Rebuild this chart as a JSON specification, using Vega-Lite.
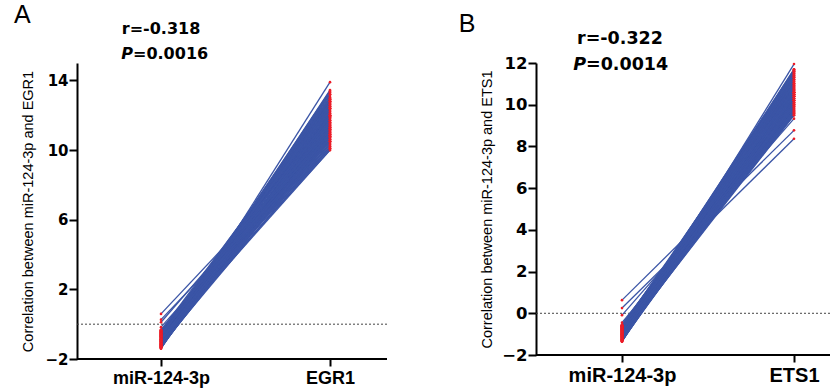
{
  "$schema": "https://vega.github.io/schema/vega-lite/v6.json",
  "autosize": {"type": "none"},
  "padding": {"left": 77, "top": 63, "right": 753, "bottom": 328},
  "background": "#ffffff",
  "config": {
    "view": {"stroke": null},
    "font": "Liberation Sans",
    "axisY": {"domain": true, "domainColor": "#000000", "domainWidth": 2, "tickColor": "#000000", "tickWidth": 2, "tickSize": 8, "labelFont": "DejaVu Sans", "labelFontWeight": "bold", "labelColor": "#000000", "labelPadding": 1, "labelOverlap": false, "titleFont": "Liberation Sans", "titleFontSize": 14.5, "titleFontWeight": "normal", "titleColor": "#000000", "grid": false},
    "axisX": {"domain": false, "tickColor": "#000000", "tickWidth": 2, "tickSize": 7, "labelFont": "Liberation Sans", "labelFontWeight": "bold", "labelColor": "#000000", "labelPadding": 3, "labelAngle": 0, "title": null, "grid": false}
  },
  "datasets": {
    "A": [
      {"id":1,"miR-124-3p":-1.41,"EGR1":13.9},{"id":2,"miR-124-3p":-1.39,"EGR1":12.8},{"id":3,"miR-124-3p":-1.37,"EGR1":13.4},{"id":4,"miR-124-3p":-1.36,"EGR1":11.9},{"id":5,"miR-124-3p":-1.34,"EGR1":12.6},{"id":6,"miR-124-3p":-1.33,"EGR1":13.2},{"id":7,"miR-124-3p":-1.31,"EGR1":11.4},{"id":8,"miR-124-3p":-1.30,"EGR1":12.9},{"id":9,"miR-124-3p":-1.28,"EGR1":12.2},{"id":10,"miR-124-3p":-1.27,"EGR1":13.45},
      {"id":11,"miR-124-3p":-1.26,"EGR1":10.8},{"id":12,"miR-124-3p":-1.24,"EGR1":12.5},{"id":13,"miR-124-3p":-1.23,"EGR1":11.7},{"id":14,"miR-124-3p":-1.22,"EGR1":13.0},{"id":15,"miR-124-3p":-1.20,"EGR1":12.1},{"id":16,"miR-124-3p":-1.19,"EGR1":10.4},{"id":17,"miR-124-3p":-1.18,"EGR1":11.5},{"id":18,"miR-124-3p":-1.16,"EGR1":12.8},{"id":19,"miR-124-3p":-1.15,"EGR1":13.3},{"id":20,"miR-124-3p":-1.14,"EGR1":11.1},
      {"id":21,"miR-124-3p":-1.12,"EGR1":12.4},{"id":22,"miR-124-3p":-1.11,"EGR1":11.8},{"id":23,"miR-124-3p":-1.10,"EGR1":10.6},{"id":24,"miR-124-3p":-1.08,"EGR1":12.7},{"id":25,"miR-124-3p":-1.07,"EGR1":13.1},{"id":26,"miR-124-3p":-1.06,"EGR1":11.3},{"id":27,"miR-124-3p":-1.04,"EGR1":12.0},{"id":28,"miR-124-3p":-1.03,"EGR1":10.9},{"id":29,"miR-124-3p":-1.02,"EGR1":12.6},{"id":30,"miR-124-3p":-1.00,"EGR1":11.6},
      {"id":31,"miR-124-3p":-0.99,"EGR1":13.35},{"id":32,"miR-124-3p":-0.98,"EGR1":10.2},{"id":33,"miR-124-3p":-0.96,"EGR1":12.3},{"id":34,"miR-124-3p":-0.95,"EGR1":11.0},{"id":35,"miR-124-3p":-0.94,"EGR1":11.9},{"id":36,"miR-124-3p":-0.92,"EGR1":12.9},{"id":37,"miR-124-3p":-0.91,"EGR1":10.7},{"id":38,"miR-124-3p":-0.90,"EGR1":11.4},{"id":39,"miR-124-3p":-0.88,"EGR1":12.5},{"id":40,"miR-124-3p":-0.87,"EGR1":13.2},
      {"id":41,"miR-124-3p":-0.86,"EGR1":10.5},{"id":42,"miR-124-3p":-0.84,"EGR1":11.7},{"id":43,"miR-124-3p":-0.83,"EGR1":12.2},{"id":44,"miR-124-3p":-0.82,"EGR1":10.1},{"id":45,"miR-124-3p":-0.80,"EGR1":11.2},{"id":46,"miR-124-3p":-0.79,"EGR1":12.8},{"id":47,"miR-124-3p":-0.78,"EGR1":10.8},{"id":48,"miR-124-3p":-0.76,"EGR1":11.5},{"id":49,"miR-124-3p":-0.75,"EGR1":12.4},{"id":50,"miR-124-3p":-0.74,"EGR1":10.3},
      {"id":51,"miR-124-3p":-0.72,"EGR1":11.9},{"id":52,"miR-124-3p":-0.71,"EGR1":13.0},{"id":53,"miR-124-3p":-0.70,"EGR1":11.1},{"id":54,"miR-124-3p":-0.68,"EGR1":10.6},{"id":55,"miR-124-3p":-0.67,"EGR1":12.1},{"id":56,"miR-124-3p":-0.66,"EGR1":11.3},{"id":57,"miR-124-3p":-0.64,"EGR1":10.0},{"id":58,"miR-124-3p":-0.63,"EGR1":12.6},{"id":59,"miR-124-3p":-0.62,"EGR1":11.8},{"id":60,"miR-124-3p":-0.60,"EGR1":10.9},
      {"id":61,"miR-124-3p":-0.59,"EGR1":11.6},{"id":62,"miR-124-3p":-0.58,"EGR1":12.3},{"id":63,"miR-124-3p":-0.56,"EGR1":10.4},{"id":64,"miR-124-3p":-0.55,"EGR1":11.0},{"id":65,"miR-124-3p":-0.54,"EGR1":12.9},{"id":66,"miR-124-3p":-0.52,"EGR1":10.7},{"id":67,"miR-124-3p":-0.51,"EGR1":11.4},{"id":68,"miR-124-3p":-0.50,"EGR1":12.0},{"id":69,"miR-124-3p":-0.48,"EGR1":10.2},{"id":70,"miR-124-3p":-0.47,"EGR1":11.7},
      {"id":71,"miR-124-3p":-0.46,"EGR1":10.8},{"id":72,"miR-124-3p":-0.44,"EGR1":12.4},{"id":73,"miR-124-3p":-0.43,"EGR1":11.2},{"id":74,"miR-124-3p":-0.42,"EGR1":10.5},{"id":75,"miR-124-3p":-0.40,"EGR1":11.9},{"id":76,"miR-124-3p":-0.39,"EGR1":10.9},{"id":77,"miR-124-3p":-0.38,"EGR1":12.7},{"id":78,"miR-124-3p":-0.36,"EGR1":10.3},{"id":79,"miR-124-3p":-0.35,"EGR1":11.5},{"id":80,"miR-124-3p":-0.34,"EGR1":10.6},
      {"id":81,"miR-124-3p":-0.33,"EGR1":11.1},{"id":82,"miR-124-3p":-0.32,"EGR1":10.1},{"id":83,"miR-124-3p":-1.35,"EGR1":12.0},{"id":84,"miR-124-3p":-1.21,"EGR1":12.95},{"id":85,"miR-124-3p":-1.13,"EGR1":11.95},{"id":86,"miR-124-3p":-0.97,"EGR1":12.7},{"id":87,"miR-124-3p":-0.85,"EGR1":11.3},{"id":88,"miR-124-3p":-0.69,"EGR1":12.5},{"id":89,"miR-124-3p":-0.57,"EGR1":11.2},{"id":90,"miR-124-3p":-0.17,"EGR1":10.7},
      {"id":91,"miR-124-3p":0.11,"EGR1":11.3},{"id":92,"miR-124-3p":0.26,"EGR1":10.5},{"id":93,"miR-124-3p":0.59,"EGR1":10.9},{"id":94,"miR-124-3p":-0.89,"EGR1":10.0},{"id":95,"miR-124-3p":-1.29,"EGR1":11.0}
    ],
    "B": [
      {"id":1,"miR-124-3p":-1.36,"ETS1":11.95},{"id":2,"miR-124-3p":-1.35,"ETS1":11.2},{"id":3,"miR-124-3p":-1.33,"ETS1":10.6},{"id":4,"miR-124-3p":-1.32,"ETS1":11.5},{"id":5,"miR-124-3p":-1.30,"ETS1":10.1},{"id":6,"miR-124-3p":-1.29,"ETS1":11.0},{"id":7,"miR-124-3p":-1.27,"ETS1":11.7},{"id":8,"miR-124-3p":-1.26,"ETS1":10.4},{"id":9,"miR-124-3p":-1.25,"ETS1":10.9},{"id":10,"miR-124-3p":-1.23,"ETS1":11.3},
      {"id":11,"miR-124-3p":-1.22,"ETS1":9.8},{"id":12,"miR-124-3p":-1.21,"ETS1":10.7},{"id":13,"miR-124-3p":-1.19,"ETS1":11.6},{"id":14,"miR-124-3p":-1.18,"ETS1":10.2},{"id":15,"miR-124-3p":-1.17,"ETS1":11.1},{"id":16,"miR-124-3p":-1.15,"ETS1":10.5},{"id":17,"miR-124-3p":-1.14,"ETS1":9.6},{"id":18,"miR-124-3p":-1.13,"ETS1":11.4},{"id":19,"miR-124-3p":-1.11,"ETS1":10.8},{"id":20,"miR-124-3p":-1.10,"ETS1":10.0},
      {"id":21,"miR-124-3p":-1.09,"ETS1":11.2},{"id":22,"miR-124-3p":-1.07,"ETS1":10.3},{"id":23,"miR-124-3p":-1.06,"ETS1":11.65},{"id":24,"miR-124-3p":-1.05,"ETS1":9.9},{"id":25,"miR-124-3p":-1.03,"ETS1":10.6},{"id":26,"miR-124-3p":-1.02,"ETS1":11.0},{"id":27,"miR-124-3p":-1.01,"ETS1":9.7},{"id":28,"miR-124-3p":-0.99,"ETS1":10.9},{"id":29,"miR-124-3p":-0.98,"ETS1":11.5},{"id":30,"miR-124-3p":-0.97,"ETS1":10.2},
      {"id":31,"miR-124-3p":-0.95,"ETS1":10.7},{"id":32,"miR-124-3p":-0.94,"ETS1":9.5},{"id":33,"miR-124-3p":-0.93,"ETS1":11.3},{"id":34,"miR-124-3p":-0.91,"ETS1":10.4},{"id":35,"miR-124-3p":-0.90,"ETS1":10.0},{"id":36,"miR-124-3p":-0.89,"ETS1":11.1},{"id":37,"miR-124-3p":-0.87,"ETS1":10.6},{"id":38,"miR-124-3p":-0.86,"ETS1":9.8},{"id":39,"miR-124-3p":-0.85,"ETS1":11.6},{"id":40,"miR-124-3p":-0.83,"ETS1":10.3},
      {"id":41,"miR-124-3p":-0.82,"ETS1":10.8},{"id":42,"miR-124-3p":-0.81,"ETS1":9.6},{"id":43,"miR-124-3p":-0.79,"ETS1":11.0},{"id":44,"miR-124-3p":-0.78,"ETS1":10.1},{"id":45,"miR-124-3p":-0.77,"ETS1":10.5},{"id":46,"miR-124-3p":-0.75,"ETS1":11.4},{"id":47,"miR-124-3p":-0.74,"ETS1":9.9},{"id":48,"miR-124-3p":-0.73,"ETS1":10.7},{"id":49,"miR-124-3p":-0.71,"ETS1":10.2},{"id":50,"miR-124-3p":-0.70,"ETS1":11.2},
      {"id":51,"miR-124-3p":-0.69,"ETS1":9.7},{"id":52,"miR-124-3p":-0.67,"ETS1":10.4},{"id":53,"miR-124-3p":-0.66,"ETS1":10.9},{"id":54,"miR-124-3p":-0.65,"ETS1":9.55},{"id":55,"miR-124-3p":-0.63,"ETS1":10.6},{"id":56,"miR-124-3p":-0.62,"ETS1":11.1},{"id":57,"miR-124-3p":-0.61,"ETS1":10.0},{"id":58,"miR-124-3p":-0.60,"ETS1":10.3},{"id":59,"miR-124-3p":-0.58,"ETS1":9.8},{"id":60,"miR-124-3p":-0.57,"ETS1":10.8},
      {"id":61,"miR-124-3p":-0.56,"ETS1":10.1},{"id":62,"miR-124-3p":-0.45,"ETS1":9.6},{"id":63,"miR-124-3p":-0.09,"ETS1":9.33},{"id":64,"miR-124-3p":0.25,"ETS1":8.37},{"id":65,"miR-124-3p":0.63,"ETS1":8.77},{"id":66,"miR-124-3p":-1.34,"ETS1":11.0},{"id":67,"miR-124-3p":-1.28,"ETS1":10.3},{"id":68,"miR-124-3p":-1.20,"ETS1":11.55},{"id":69,"miR-124-3p":-1.16,"ETS1":9.9},{"id":70,"miR-124-3p":-1.12,"ETS1":10.7},
      {"id":71,"miR-124-3p":-1.08,"ETS1":11.35},{"id":72,"miR-124-3p":-1.04,"ETS1":10.0},{"id":73,"miR-124-3p":-1.00,"ETS1":10.5},{"id":74,"miR-124-3p":-0.96,"ETS1":11.7},{"id":75,"miR-124-3p":-0.92,"ETS1":10.2},{"id":76,"miR-124-3p":-0.88,"ETS1":10.9},{"id":77,"miR-124-3p":-0.84,"ETS1":9.7},{"id":78,"miR-124-3p":-0.80,"ETS1":10.4},{"id":79,"miR-124-3p":-0.76,"ETS1":11.0},{"id":80,"miR-124-3p":-0.72,"ETS1":9.9},
      {"id":81,"miR-124-3p":-0.68,"ETS1":10.6},{"id":82,"miR-124-3p":-0.64,"ETS1":11.3},{"id":83,"miR-124-3p":-0.59,"ETS1":10.2},{"id":84,"miR-124-3p":-1.24,"ETS1":10.8},{"id":85,"miR-124-3p":-1.12,"ETS1":9.5},{"id":86,"miR-124-3p":-0.97,"ETS1":11.2},{"id":87,"miR-124-3p":-0.85,"ETS1":10.1},{"id":88,"miR-124-3p":-0.73,"ETS1":10.6},{"id":89,"miR-124-3p":-0.62,"ETS1":9.7},{"id":90,"miR-124-3p":-1.31,"ETS1":10.4},
      {"id":91,"miR-124-3p":-1.02,"ETS1":10.5},{"id":92,"miR-124-3p":-0.90,"ETS1":11.45},{"id":93,"miR-124-3p":-0.78,"ETS1":9.6},{"id":94,"miR-124-3p":-0.66,"ETS1":10.0},{"id":95,"miR-124-3p":-0.55,"ETS1":10.7}
    ]
  },
  "bounds": "flush",
  "spacing": 149,
  "hconcat": [
    {
      "width": 310,
      "height": 296,
      "title": {"text": "A", "anchor": "start", "frame": "bounds", "font": "Liberation Sans", "fontSize": 25, "fontWeight": "normal", "color": "#000000", "offset": -7, "dx": -7},
      "layer": [
        {"data": {"values": [{"value": -2}]}, "mark": {"type": "rule", "color": "#000000", "strokeWidth": 2}, "encoding": {"y": {"field": "value", "type": "quantitative", "scale": {"domain": [-2, 15], "nice": false, "zero": false}, "axis": {"title": "Correlation between miR-124-3p and EGR1", "values": [-2, 0, 2, 4, 6, 8, 10, 12, 14], "labelOverlap": false, "labelFontSize": 15, "titlePadding": 9}}}},
        {"data": {"values": [{"value": 0}]}, "mark": {"type": "rule", "color": "#444444", "strokeWidth": 1, "strokeDash": [2, 2]}, "encoding": {"y": {"field": "value", "type": "quantitative"}}},
        {
          "data": {"name": "A"},
          "transform": [{"fold": ["miR-124-3p", "EGR1"], "as": ["group", "value"]}],
          "mark": {"type": "line", "color": "#3b55a6", "strokeWidth": 1.3},
          "encoding": {
            "x": {"field": "group", "type": "nominal", "scale": {"type": "point", "domain": ["miR-124-3p", "EGR1"], "range": [84, 253], "padding": 0}, "axis": {"labelFontSize": 18}},
            "y": {"field": "value", "type": "quantitative"},
            "detail": {"field": "id", "type": "nominal"}
          }
        },
        {
          "data": {"name": "A"},
          "transform": [{"fold": ["miR-124-3p", "EGR1"], "as": ["group", "value"]}],
          "mark": {"type": "point", "filled": true, "color": "#ec1c27", "size": 7, "opacity": 1},
          "encoding": {
            "x": {"field": "group", "type": "nominal"},
            "y": {"field": "value", "type": "quantitative"}
          }
        },
        {"data": {"values": [{"group": "miR-124-3p", "value": 16.65, "t": "r=-0.318"}]}, "mark": {"type": "text", "font": "DejaVu Sans", "fontWeight": "bold", "fontSize": 16, "color": "#000000", "align": "center", "baseline": "alphabetic"}, "encoding": {"x": {"field": "group", "type": "nominal"}, "y": {"field": "value", "type": "quantitative"}, "text": {"field": "t", "type": "nominal"}}},
        {"data": {"values": [{"group": "miR-124-3p", "value": 15.23, "t": "P"}]}, "mark": {"type": "text", "font": "DejaVu Sans", "fontWeight": "bold", "fontStyle": "italic", "fontSize": 16, "color": "#000000", "align": "right", "baseline": "alphabetic", "dx": -28}, "encoding": {"x": {"field": "group", "type": "nominal"}, "y": {"field": "value", "type": "quantitative"}, "text": {"field": "t", "type": "nominal"}}},
        {"data": {"values": [{"group": "miR-124-3p", "value": 15.23, "t": "=0.0016"}]}, "mark": {"type": "text", "font": "DejaVu Sans", "fontWeight": "bold", "fontSize": 16, "color": "#000000", "align": "left", "baseline": "alphabetic", "dx": -28}, "encoding": {"x": {"field": "group", "type": "nominal"}, "y": {"field": "value", "type": "quantitative"}, "text": {"field": "t", "type": "nominal"}}}
      ]
    },
    {
      "width": 294,
      "height": 292,
      "title": {"text": "B", "anchor": "start", "frame": "bounds", "font": "Liberation Sans", "fontSize": 25, "fontWeight": "normal", "color": "#000000", "offset": -7, "dx": -21},
      "layer": [
        {"data": {"values": [{"value": -2}]}, "mark": {"type": "rule", "color": "#000000", "strokeWidth": 2}, "encoding": {"y": {"field": "value", "type": "quantitative", "scale": {"domain": [-2, 12], "nice": false, "zero": false}, "axis": {"title": "Correlation between miR-124-3p and ETS1", "values": [-2, 0, 2, 4, 6, 8, 10, 12], "labelOverlap": false, "labelFontSize": 16.5, "titlePadding": 7}}}},
        {"data": {"values": [{"value": 0}]}, "mark": {"type": "rule", "color": "#444444", "strokeWidth": 1, "strokeDash": [2, 2]}, "encoding": {"y": {"field": "value", "type": "quantitative"}}},
        {
          "data": {"name": "B"},
          "transform": [{"fold": ["miR-124-3p", "ETS1"], "as": ["group", "value"]}],
          "mark": {"type": "line", "color": "#3b55a6", "strokeWidth": 1.3},
          "encoding": {
            "x": {"field": "group", "type": "nominal", "scale": {"type": "point", "domain": ["miR-124-3p", "ETS1"], "range": [86, 258], "padding": 0}, "axis": {"labelFontSize": 20}},
            "y": {"field": "value", "type": "quantitative"},
            "detail": {"field": "id", "type": "nominal"}
          }
        },
        {
          "data": {"name": "B"},
          "transform": [{"fold": ["miR-124-3p", "ETS1"], "as": ["group", "value"]}],
          "mark": {"type": "point", "filled": true, "color": "#ec1c27", "size": 7, "opacity": 1},
          "encoding": {
            "x": {"field": "group", "type": "nominal"},
            "y": {"field": "value", "type": "quantitative"}
          }
        },
        {"data": {"values": [{"group": "miR-124-3p", "value": 12.9, "t": "r=-0.322"}]}, "mark": {"type": "text", "font": "DejaVu Sans", "fontWeight": "bold", "fontSize": 17.5, "color": "#000000", "align": "center", "baseline": "alphabetic", "dx": -2}, "encoding": {"x": {"field": "group", "type": "nominal"}, "y": {"field": "value", "type": "quantitative"}, "text": {"field": "t", "type": "nominal"}}},
        {"data": {"values": [{"group": "miR-124-3p", "value": 11.66, "t": "P"}]}, "mark": {"type": "text", "font": "DejaVu Sans", "fontWeight": "bold", "fontStyle": "italic", "fontSize": 17.5, "color": "#000000", "align": "right", "baseline": "alphabetic", "dx": -36}, "encoding": {"x": {"field": "group", "type": "nominal"}, "y": {"field": "value", "type": "quantitative"}, "text": {"field": "t", "type": "nominal"}}},
        {"data": {"values": [{"group": "miR-124-3p", "value": 11.66, "t": "=0.0014"}]}, "mark": {"type": "text", "font": "DejaVu Sans", "fontWeight": "bold", "fontSize": 17.5, "color": "#000000", "align": "left", "baseline": "alphabetic", "dx": -36}, "encoding": {"x": {"field": "group", "type": "nominal"}, "y": {"field": "value", "type": "quantitative"}, "text": {"field": "t", "type": "nominal"}}}
      ]
    }
  ]
}
